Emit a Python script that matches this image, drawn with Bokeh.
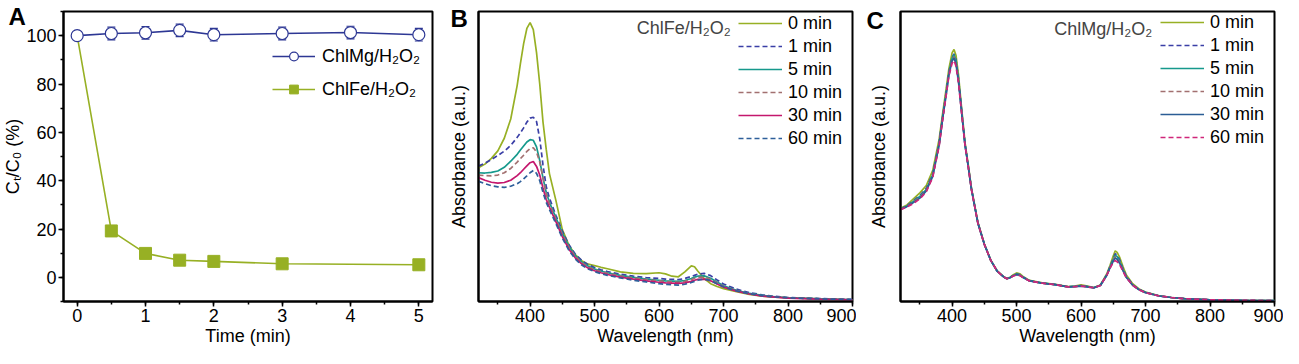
from bokeh.plotting import figure
from bokeh.layouts import row
from bokeh.models import (Range1d, SingleIntervalTicker, FixedTicker, Legend, LegendItem,
                          Label, Whisker, TeeHead, ColumnDataSource)
from bokeh.embed import file_html
from bokeh.resources import INLINE

FONT = "Liberation Sans"
FS = "18px"

# ---------------- Panel A data ----------------
time_mg = [0, 0.5, 1, 1.5, 2, 3, 4, 5]
ratio_mg = [100, 100.9, 101.2, 102.2, 100.4, 100.9, 101.3, 100.4]
err_mg = [0, 2.6, 2.6, 2.6, 2.6, 2.6, 2.6, 2.6]
time_fe = [0, 0.5, 1, 1.5, 2, 3, 5]
ratio_fe = [100, 19.2, 9.9, 7.1, 6.6, 5.6, 5.2]

# ---------------- Panel B data (ChlFe/H2O2) ----------------
wl_b = [320, 330, 340, 350, 360, 370, 380, 385, 390, 395,
        400, 405, 410, 415, 420, 425, 430, 440, 450,
        460, 470, 480, 490, 500, 510, 520,
        540, 560, 580, 600, 610, 620, 630, 640,
        650, 655, 660, 670, 680, 690, 700,
        720, 740, 760, 780, 800, 850, 900]
b_0 = [.465, .478, .498, .524, .568, .635, .752, .828, .897, .950,
       .970, .946, .866, .756, .625, .530, .445, .352, .250,
       .197, .163, .142, .130, .125, .119, .114,
       .103, .098, .097, .100, .096, .088, .086, .103,
       .124, .121, .106, .080, .062, .052, .045,
       .034, .025, .019, .015, .013, .009, .006]
b_1 = [.471, .481, .494, .508, .523, .543, .571, .587, .604, .624,
       .638, .641, .626, .566, .475, .400, .360, .300, .245,
       .198, .165, .143, .128, .118, .110, .104,
       .095, .088, .083, .080, .078, .077, .076, .080,
       .087, .091, .095, .098, .090, .075, .061,
       .043, .031, .023, .018, .014, .010, .007]
b_5 = [.448, .447, .449, .454, .467, .488, .512, .527, .541, .555,
       .563, .561, .538, .490, .430, .380, .345, .292, .238,
       .193, .160, .138, .123, .113, .106, .100,
       .091, .084, .078, .074, .072, .071, .070, .073,
       .080, .085, .088, .089, .081, .068, .055,
       .039, .028, .021, .016, .013, .009, .006]
b_10 = [.440, .438, .437, .440, .448, .463, .485, .497, .509, .522,
        .532, .535, .520, .485, .430, .375, .340, .286, .233,
        .189, .157, .135, .120, .111, .104, .098,
        .089, .082, .076, .072, .070, .068, .067, .070,
        .076, .081, .084, .085, .077, .065, .053,
        .038, .027, .020, .016, .013, .009, .006]
b_30 = [.431, .422, .415, .412, .414, .422, .438, .448, .460, .472,
        .483, .487, .470, .440, .395, .355, .328, .278, .226,
        .183, .152, .131, .116, .107, .100, .094,
        .085, .078, .072, .067, .065, .064, .063, .065,
        .070, .074, .077, .078, .072, .061, .050,
        .036, .026, .019, .015, .012, .008, .006]
b_60 = [.418, .410, .403, .399, .397, .401, .410, .417, .427, .437,
        .448, .456, .446, .420, .380, .345, .320, .271, .221,
        .179, .148, .127, .113, .104, .097, .091,
        .082, .074, .068, .062, .060, .058, .057, .060,
        .066, .070, .074, .078, .073, .062, .051,
        .037, .027, .020, .016, .013, .009, .007]

# ---------------- Panel C data (ChlMg/H2O2) ----------------
wl_c = [320, 330, 340, 350, 360, 370, 380, 385, 390, 395,
        400, 403, 406, 410, 415, 420, 425, 430, 440, 450,
        460, 470, 480, 485, 490, 495, 500, 505, 510, 520,
        540, 560, 580, 590, 600, 610, 620, 630, 640, 645,
        650, 653, 656, 660, 665, 670, 680, 690, 700, 720,
        740, 760, 800, 850, 900]
c_0 = [.324, .336, .357, .378, .404, .457, .567, .650, .730, .812,
       .868, .880, .860, .790, .670, .556, .478, .396, .276, .200,
       .143, .105, .085, .079, .083, .092, .098, .095, .086, .072,
       .063, .058, .050, .052, .056, .052, .047, .056, .095, .125,
       .158, .175, .170, .152, .120, .092, .060, .042, .031, .019,
       .012, .008, .004, .002, .001]
c_1 = [.322, .333, .350, .369, .394, .445, .555, .640, .718, .800,
       .852, .865, .845, .777, .662, .550, .474, .393, .274, .199,
       .142, .104, .084, .078, .082, .089, .094, .092, .084, .071,
       .062, .057, .049, .051, .054, .050, .046, .055, .092, .120,
       .148, .165, .160, .143, .113, .087, .057, .040, .030, .018,
       .012, .008, .004, .002, .001]
c_5 = [.321, .332, .348, .366, .390, .441, .551, .636, .714, .796,
       .849, .862, .842, .774, .660, .548, .473, .392, .273, .199,
       .142, .104, .084, .078, .082, .089, .094, .091, .083, .071,
       .062, .057, .049, .051, .053, .050, .046, .055, .091, .119,
       .145, .160, .155, .139, .110, .085, .056, .040, .030, .018,
       .012, .008, .004, .002, .001]
c_10 = [.320, .331, .346, .363, .387, .438, .548, .633, .711, .793,
        .845, .855, .835, .769, .657, .547, .472, .391, .273, .198,
        .142, .104, .084, .078, .081, .088, .093, .090, .083, .070,
        .062, .057, .049, .050, .053, .050, .046, .055, .091, .117,
        .142, .155, .150, .135, .108, .084, .056, .039, .029, .018,
        .012, .008, .004, .002, .001]
c_30 = [.320, .330, .344, .360, .385, .436, .546, .631, .709, .790,
        .840, .850, .830, .766, .655, .546, .471, .390, .272, .198,
        .142, .104, .084, .078, .081, .088, .092, .090, .082, .070,
        .062, .057, .049, .050, .052, .049, .046, .054, .090, .116,
        .139, .150, .146, .131, .106, .083, .055, .039, .029, .018,
        .012, .008, .004, .002, .001]
c_60 = [.319, .329, .341, .357, .382, .433, .543, .628, .706, .786,
        .832, .841, .822, .762, .652, .545, .470, .390, .272, .198,
        .142, .104, .084, .078, .081, .087, .091, .089, .082, .070,
        .062, .057, .049, .050, .052, .049, .046, .054, .090, .115,
        .135, .141, .137, .126, .104, .082, .055, .039, .029, .018,
        .012, .008, .004, .002, .001]

time_labels = ["0 min", "1 min", "5 min", "10 min", "30 min", "60 min"]
panel_letters = ["A", "B", "C"]

OLIVE = "#97b024"
NAVY = "#2d3794"


def style(p, xlabel, ylabel, y_ticks=True, y_standoff=0):
    p.outline_line_color = "black"
    p.outline_line_width = 2
    p.outline_line_alpha = 1
    p.xgrid.visible = False
    p.ygrid.visible = False
    for ax in (p.xaxis[0], p.yaxis[0]):
        ax.axis_line_width = 2
        ax.axis_line_color = "black"
        ax.major_tick_line_width = 1.5
        ax.minor_tick_line_width = 1.5
        ax.major_tick_line_color = "black"
        ax.minor_tick_line_color = "black"
        ax.major_tick_out = 5
        ax.major_tick_in = 0
        ax.minor_tick_out = 3
        ax.minor_tick_in = 0
        ax.major_label_text_font = FONT
        ax.major_label_text_font_size = FS
        ax.major_label_text_color = "black"
        ax.major_label_standoff = 2
        ax.axis_label_text_font = FONT
        ax.axis_label_text_font_size = FS
        ax.axis_label_text_font_style = "normal"
        ax.axis_label_text_color = "black"
        ax.axis_label_standoff = 1
    p.xaxis[0].axis_label = xlabel
    p.yaxis[0].axis_label = ylabel
    p.yaxis[0].axis_label_standoff = y_standoff
    if not y_ticks:
        p.yaxis[0].ticker = FixedTicker(ticks=[])
        p.yaxis[0].major_tick_out = 0
        p.yaxis[0].minor_tick_out = 0


def panel_letter(p, text, offset, standoff):
    t = p.title
    t.text = text
    t.align = "left"
    t.vertical_align = "bottom"
    t.text_font = FONT
    t.text_font_size = "24px"
    t.text_font_style = "bold"
    t.text_color = "black"
    t.offset = offset
    try:
        t.standoff = standoff
    except Exception:
        t.standoff = 0


def legend(items, loc, spacing, padding, glyph_w, standoff):
    return Legend(items=items, location=loc, spacing=spacing, padding=padding,
                  margin=0, glyph_width=glyph_w, glyph_height=22, label_height=22,
                  label_standoff=standoff, label_text_font=FONT, label_text_font_size=FS,
                  label_text_color="black", border_line_alpha=0, background_fill_alpha=0)


# ---------------- Panel A ----------------
pa = figure(width=434, height=348, output_backend="svg", toolbar_location=None,
            x_range=Range1d(-0.2, 5.2), y_range=Range1d(-10, 110),
            min_border_left=58, min_border_right=2, min_border_top=11, min_border_bottom=40)
style(pa, "Time (min)", "C\u209c/C\u2080 (%)")
pa.xaxis[0].ticker = SingleIntervalTicker(interval=1, num_minor_ticks=2)
pa.yaxis[0].ticker = SingleIntervalTicker(interval=20, num_minor_ticks=2)

lfe = pa.line(time_fe, ratio_fe, line_color=OLIVE, line_width=1.6)
sfe = pa.scatter(time_fe[1:], ratio_fe[1:], marker="square", size=12,
                 fill_color=OLIVE, line_color=OLIVE)
lmg = pa.line(time_mg, ratio_mg, line_color=NAVY, line_width=1.6)
smg = pa.scatter(time_mg, ratio_mg, marker="circle", size=12, fill_color="white",
                 line_color=NAVY, line_width=1.2)
src = ColumnDataSource(dict(x=time_mg[1:],
                            up=[v + e for v, e in zip(ratio_mg[1:], err_mg[1:])],
                            lo=[v - e for v, e in zip(ratio_mg[1:], err_mg[1:])]))
pa.add_layout(Whisker(base="x", upper="up", lower="lo", source=src, line_color=NAVY,
                      line_width=1.2,
                      upper_head=TeeHead(size=8, line_color=NAVY, line_width=1.2),
                      lower_head=TeeHead(size=8, line_color=NAVY, line_width=1.2)))
pa.add_layout(legend([LegendItem(label="ChlMg/H\u2082O\u2082", renderers=[lmg, smg]),
                      LegendItem(label="ChlFe/H\u2082O\u2082", renderers=[lfe, sfe])],
                     (205, 197), 11, 4, 43, 7))
panel_letter(pa, panel_letters[0], -55, -36)

# ---------------- Panel B ----------------
pb = figure(width=422, height=348, output_backend="svg", toolbar_location=None,
            x_range=Range1d(320, 900), y_range=Range1d(0, 1.009),
            min_border_left=44, min_border_right=4, min_border_top=9, min_border_bottom=42)
style(pb, "Wavelength (nm)", "Absorbance (a.u.)", y_ticks=False, y_standoff=10)
pb.xaxis[0].ticker = SingleIntervalTicker(interval=100, num_minor_ticks=2)
b_series = [b_0, b_1, b_5, b_10, b_30, b_60]
b_colors = [OLIVE, "#3a3fa6", "#16998c", "#a27070", "#c4176d", "#2e5f9a"]
b_dash = ["solid", "5 3", "solid", "5 3", "solid", "5 3"]
b_items = []
for ys, col, dsh, lab in zip(b_series, b_colors, b_dash, time_labels):
    r = pb.line(wl_b, ys, line_color=col, line_width=1.7, line_dash=dsh)
    b_items.append(LegendItem(label=lab, renderers=[r]))
pb.add_layout(legend(b_items, (255, 147), 1, 5, 44, 6))
pb.add_layout(Label(x=711.3, y=0.953, text="ChlFe/H\u2082O\u2082", text_font=FONT,
                    text_font_size=FS, text_baseline="middle", text_align="right"))
panel_letter(pb, panel_letters[1], -28, -40)

# ---------------- Panel C ----------------
pc = figure(width=427, height=348, output_backend="svg", toolbar_location=None,
            x_range=Range1d(320, 900), y_range=Range1d(-0.002, 1.013),
            min_border_left=44, min_border_right=9, min_border_top=6, min_border_bottom=44)
style(pc, "Wavelength (nm)", "Absorbance (a.u.)", y_ticks=False, y_standoff=12)
pc.xaxis[0].ticker = SingleIntervalTicker(interval=100, num_minor_ticks=2)
c_series = [c_0, c_1, c_5, c_10, c_30, c_60]
c_colors = [OLIVE, "#3a3fa6", "#16998c", "#a27070", "#2b5d95", "#d0267a"]
c_dash = ["solid", "5 3", "solid", "5 3", "solid", "5 3"]
c_items = []
for ys, col, dsh, lab in zip(c_series, c_colors, c_dash, time_labels):
    r = pc.line(wl_c, ys, line_color=col, line_width=1.7, line_dash=dsh)
    c_items.append(LegendItem(label=lab, renderers=[r]))
pc.add_layout(legend(c_items, (255, 148), 1, 5, 44, 6))
pc.add_layout(Label(x=710.4, y=0.951, text="ChlMg/H\u2082O\u2082", text_font=FONT,
                    text_font_size=FS, text_baseline="middle", text_align="right"))
panel_letter(pc, panel_letters[2], -34, -44)

layout = row(pa, pb, pc, spacing=0)
open("out.html", "w").write(file_html(layout, INLINE))
